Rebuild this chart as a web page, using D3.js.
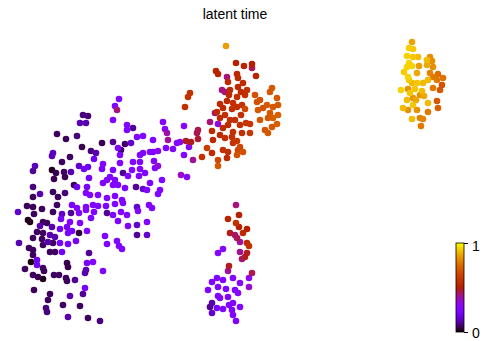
<!DOCTYPE html>
<html>
<head>
<meta charset="utf-8">
<script src="https://cdn.jsdelivr.net/npm/d3@7"></script>
<style>
  body { margin: 0; background: #fff; }
  svg { display: block; }
</style>
</head>
<body>
<div id="chart"></div>
<script>
// embedding coordinates [umap1, umap2, latent time]
const cellsLeftTop = [
  [83,115,.08],[88,116,.08],[80,123,.12],[86,123,.12],[57,134,.06],[66,139,.06],[77,136,.08],[82,147,.05],
  [91,151,.08],[96,153,.12],[53,153,.13],[52,156,.13],[94,159,.2],[62,162,.06],[70,157,.06],[35,166,.13],
  [33,171,.1],[52,170,.02],[56,173,.05],[64,172,.06],[71,172,.12],[79,166,.15],[84,169,.2],[88,167,.2],
  [54,179,.05],[65,177,.05],[89,178,.22],[33,187,.08],[74,185,.06],[77,187,.2],[87,187,.22]
];
const cellsLeftBottom = [
  [40,194,.12],[33,197,.06],[53,192,.06],[58,197,.06],[65,193,.08],[86,193,.25],[90,195,.25],[98,195,.25],
  [107,198,.25],[115,196,.25],[122,200,.25],[27,206,.06],[33,207,.06],[42,209,.06],[57,205,.06],[72,205,.22],
  [77,208,.25],[86,207,.25],[93,205,.25],[98,206,.25],[106,206,.25],[115,204,.25],[123,203,.25],[18,212,.15],
  [34,214,.06],[53,212,.06],[62,214,.15],[71,213,.1],[79,213,.25],[86,210,.25],[94,212,.25],[107,213,.1],
  [113,215,.25],[121,212,.25],[127,215,.25],[28,220,.02],[30,222,.02],[43,222,.06],[47,223,.06],[61,219,.22],
  [70,222,.25],[80,223,.25],[91,218,.25],[118,221,.25],[40,226,.12],[52,227,.12],[60,229,.2],[67,227,.22],
  [72,231,.22],[87,231,.25],[128,226,.25],[37,232,.06],[43,233,.06],[50,235,.12],[55,237,.12],[68,233,.22],
  [79,233,.04],[19,243,.12],[33,238,.06],[42,239,.06],[48,242,.12],[53,243,.06],[60,243,.22],[68,244,.22],
  [76,241,.22],[105,236,.25],[29,248,.06],[33,250,.06],[43,245,.06],[50,252,.06],[55,252,.06],[62,252,.2],
  [89,253,.1],[107,244,.25],[117,241,.25],[119,246,.25],[122,249,.25],[33,255,.06],[31,262,.01],[37,260,.2],
  [37,265,.2],[43,268,.06],[44,271,.06],[25,269,.06],[67,263,.05],[68,267,.05],[87,263,.22],[93,262,.25],
  [86,270,.12],[103,271,.25],[33,275,.06],[38,277,.05],[43,279,.02],[54,275,.06],[59,275,.06],[66,278,.06],
  [67,281,.06],[75,280,.1],[85,273,.12],[34,290,.06],[50,294,.06],[48,300,.06],[70,296,.12],[85,288,.22],
  [83,294,.1],[46,308,.08],[47,312,.08],[63,305,.06],[80,306,.06],[68,317,.12],[88,318,.06],[100,321,.08]
];
const cellsBridge = [
  [119,99,.25],[115,106,.25],[117,110,.42],[113,120,.25],[190,93,.58],[188,97,.58],[185,107,.57],[127,125,.25],
  [127,130,.25],[133,128,.1],[163,122,.25],[165,129,.27],[167,133,.38],[184,126,.27],[198,130,.45],[197,133,.45],
  [102,143,.05],[113,142,.1],[125,144,.07],[121,150,.07],[137,137,.25],[143,136,.25],[153,140,.25],[168,140,.4],
  [180,142,.27],[186,141,.48],[191,142,.48],[198,139,.47],[210,122,.42],[118,148,.25],[140,155,.25],[143,153,.25],
  [150,152,.25],[153,152,.25],[158,151,.3],[173,149,.25],[177,143,.25],[184,155,.25],[189,147,.27],[193,160,.4],
  [202,157,.58],[207,148,.62],[120,155,.25],[120,163,.25],[133,162,.25],[140,162,.25],[154,161,.25],[158,166,.33],
  [181,175,.35],[187,177,.27],[102,169,.22],[113,170,.25],[123,173,.1],[132,170,.25],[140,169,.25],[145,173,.25],
  [155,168,.25],[107,180,.25],[115,180,.25],[118,185,.25],[125,188,.25],[136,187,.1],[143,189,.15],[150,183,.25],
  [160,190,.25],[162,180,.25],[110,177,.25],[128,176,.25],[139,176,.25],[103,183,.25],[113,185,.25],[147,190,.25],
  [103,164,.25],[166,148,.25],[131,143,.15],[158,194,.25],
  [137,207,.15],[149,205,.25],[138,211,.25],[152,208,.25],[137,225,.15],[147,222,.25],[137,235,.1],[147,235,.15]
];
const cellsUpper = [
  [226,46,.85],[236,63,.5],[244,66,.52],[252,64,.5],[252,68,.45],[256,76,.52],[216,71,.52],[218,74,.52],
  [227,77,.42],[237,74,.53],[238,78,.55],[228,82,.55],[243,83,.55],[238,87,.55],[247,90,.58],[241,92,.55],
  [222,90,.42],[225,92,.42],[230,90,.55],[229,95,.55],[237,97,.57],[245,95,.57],[272,88,.7],[270,92,.7],
  [255,95,.68],[260,100,.68],[277,98,.7],[267,105,.7],[273,107,.7],[278,105,.7],[263,108,.68],[257,102,.68],
  [220,104,.55],[227,101,.55],[233,103,.57],[237,107,.57],[242,105,.58],[245,109,.65],[217,112,.55],[215,113,.42],
  [223,108,.55],[232,109,.57],[241,115,.57],[225,115,.57],[220,118,.55],[230,120,.57],[235,120,.57],[246,123,.6],
  [250,124,.6],[260,120,.7],[273,118,.72],[278,115,.72],[270,113,.7],[218,124,.33],[212,131,.55],[223,128,.55],
  [228,125,.55],[233,132,.57],[242,133,.57],[250,133,.6],[265,130,.7],[272,127,.7],[277,124,.72],[268,133,.7],
  [220,135,.55],[225,138,.57],[232,137,.57],[237,141,.6],[233,143,.58],[240,147,.65],[243,152,.68],[238,150,.65],
  [212,153,.55],[223,150,.57],[228,152,.57],[218,160,.65],[213,140,.55],[237,155,.68],[218,166,.7],[227,158,.55],
  [258,110,.7],[268,118,.7],[240,125,.57]
];
const cellsYellow = [
  [412,42,.86],[409,48,.93],[413,49,.92],[407,56,.94],[413,57,.92],[418,57,.9],[430,57,.82],[432,61,.82],
  [427,60,.9],[409,63,.94],[412,66,.94],[419,66,.85],[407,67,.94],[427,65,.87],[433,67,.82],[408,77,.94],
  [430,73,.8],[433,77,.78],[438,74,.76],[409,80,.92],[412,83,.9],[417,83,.92],[423,83,.9],[428,80,.9],
  [443,78,.76],[437,80,.78],[401,90,.94],[408,89,.83],[415,89,.92],[422,91,.9],[433,88,.78],[440,90,.7],
  [442,85,.68],[407,100,.9],[413,98,.83],[420,95,.83],[428,103,.9],[437,101,.7],[413,105,.92],[403,108,.9],
  [408,110,.83],[417,110,.83],[428,112,.78],[438,108,.72],[412,119,.9],[420,118,.8],[423,119,.8],[421,126,.78],
  [404,72,.93],[417,73,.87],[424,96,.87],[410,93,.92],[416,100,.87]
];
const cellsLower = [
  [236,205,.42],[239,215,.5],[228,219,.52],[236,223,.58],[239,227,.5],[247,229,.5],[230,233,.48],[235,235,.42],
  [243,233,.55],[237,238,.45],[240,242,.4],[247,243,.55],[249,246,.58],[218,253,.27],[223,249,.27],[240,252,.4],
  [247,253,.48],[245,257,.48],[242,259,.42],[229,266,.48],[228,271,.4],[252,273,.45],[249,278,.3],[217,278,.25],
  [212,282,.25],[223,280,.25],[233,278,.27],[240,283,.27],[249,287,.35],[208,290,.25],[218,287,.25],[226,289,.25],
  [235,290,.25],[238,293,.27],[228,297,.27],[218,296,.25],[220,298,.25],[212,303,.12],[210,307,.1],[217,308,.22],
  [223,309,.25],[229,305,.25],[233,303,.25],[240,307,.25],[232,310,.25],[212,313,.15],[233,315,.25],[236,321,.25]
];
const cbarTicks = [0, 1];
const title = 'latent time';

const width = 483, height = 341;

// matplotlib "gnuplot" colormap
function gnuplot(t) {
  const r = Math.sqrt(t), g = t * t * t, b = Math.max(0, Math.sin(2 * Math.PI * t));
  return d3.rgb(r * 255, g * 255, b * 255).toString();
}

const svg = d3.select('#chart').append('svg')
  .attr('width', width)
  .attr('height', height);

const x = d3.scaleLinear().domain([0, 483]).range([0, width]);
const y = d3.scaleLinear().domain([0, 341]).range([0, height]);

const cells = [].concat(cellsLeftTop, cellsLeftBottom, cellsBridge, cellsUpper, cellsYellow, cellsLower)
  .sort((a, b) => a[2] - b[2]);

svg.append('g').selectAll('circle')
  .data(cells)
  .enter().append('circle')
  .attr('cx', d => x(d[0]))
  .attr('cy', d => y(d[1]))
  .attr('r', 3.3)
  .attr('fill', d => gnuplot(d[2]));

svg.append('text')
  .attr('x', 235)
  .attr('y', 19)
  .attr('text-anchor', 'middle')
  .style('font-family', 'Liberation Sans, Arial, sans-serif')
  .style('font-size', '14px')
  .text(title);

// colorbar
const cbar = { x: 456, w: 8, top: 243, bottom: 332 };
const defs = svg.append('defs');
const grad = defs.append('linearGradient')
  .attr('id', 'cbar-grad')
  .attr('x1', 0).attr('y1', 1).attr('x2', 0).attr('y2', 0);
grad.selectAll('stop')
  .data(d3.range(0, 1.0001, 0.02))
  .enter().append('stop')
  .attr('offset', d => d)
  .attr('stop-color', d => gnuplot(d));

svg.append('rect')
  .attr('x', cbar.x)
  .attr('y', cbar.top)
  .attr('width', cbar.w)
  .attr('height', cbar.bottom - cbar.top)
  .attr('fill', 'url(#cbar-grad)')
  .attr('stroke', '#000')
  .attr('stroke-width', 0.8);

const cy = d3.scaleLinear().domain([0, 1]).range([cbar.bottom, cbar.top]);
const cax = svg.append('g')
  .attr('transform', `translate(${cbar.x + cbar.w},0)`)
  .call(d3.axisRight(cy).tickValues(cbarTicks).tickSize(4).tickPadding(4).tickFormat(d3.format('d')));
cax.select('.domain').remove();
cax.selectAll('text')
  .attr('dy', d => d === 0 ? '0.4em' : '0.55em')
  .style('font-family', 'Liberation Sans, Arial, sans-serif')
  .style('font-size', '14px');
</script>
</body>
</html>
